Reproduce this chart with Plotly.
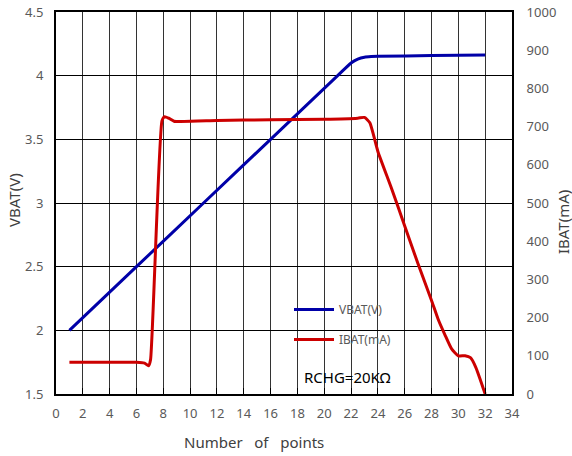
import plotly.graph_objects as go

# VBAT (V) vs number of points
vbat_x = [1, 6, 11, 16, 21, 22, 22.5, 23, 23.5, 24, 28, 32]
vbat_y = [2.0, 2.5, 3.0, 3.5, 4.0, 4.1, 4.13, 4.145, 4.15, 4.152, 4.158, 4.162]

# IBAT (mA) vs number of points
ibat_x = [1, 6, 6.6, 6.9, 7.05, 7.9, 8.1, 8.4, 8.8, 12, 16, 20, 22.5, 23, 23.4, 24, 25, 26, 27, 28, 28.5, 29, 29.5, 30, 30.5, 30.9, 31.3, 32]
ibat_y = [83, 83, 81, 74, 90, 715, 726, 722, 714, 716, 718, 719, 722, 724, 710, 635, 540, 440, 340, 245, 195, 155, 118, 100, 100, 95, 70, 0]

x_ticks = list(range(0, 35, 2))
left_ticks = [1.5, 2, 2.5, 3, 3.5, 4, 4.5]
right_ticks = list(range(0, 1001, 100))

W, H = 572, 456
L, R, T, B = 56, 60, 12, 62
pw, ph = W - L - R, H - T - B

def px(xp):  # page pixel x -> paper
    return (xp - L) / pw

def py(yp):  # page pixel y -> paper
    return (H - B - yp) / ph

fig = go.Figure()
fig.add_trace(go.Scatter(x=vbat_x, y=vbat_y, name="VBAT(V)", mode="lines",
                         line=dict(color="#0000a8", width=3, shape="spline", smoothing=0.6),
                         legendgroup="a"))
fig.add_trace(go.Scatter(x=ibat_x, y=ibat_y, name="IBAT(mA)", mode="lines", yaxis="y2",
                         line=dict(color="#cc0000", width=3, shape="spline", smoothing=0.5),
                         legendgroup="b"))

tickfont = dict(family="Noto Sans", size=13, color="#595959")
titlefont = dict(family="Noto Sans", size=15, color="#404040")

fig.update_layout(
    width=W, height=H,
    margin=dict(l=L, r=R, t=T, b=B, autoexpand=False),
    plot_bgcolor="white", paper_bgcolor="white",
    showlegend=True,
    legend=dict(x=px(289), y=py(295), xanchor="left", yanchor="top",
                bgcolor="rgba(0,0,0,0)", font=dict(family="Noto Sans", size=12, color="#595959"),
                traceorder="grouped", tracegroupgap=11, itemwidth=40),
    xaxis=dict(range=[0, 34], tickvals=x_ticks, tickfont=tickfont, automargin=False,
               showgrid=True, gridcolor="#333333", gridwidth=1,
               showline=True, linecolor="black", linewidth=2, mirror=True,
               ticks="inside", ticklen=6, tickcolor="black", zeroline=False,
               ticklabelstandoff=6),
    yaxis=dict(range=[1.5, 4.5], tickvals=left_ticks, ticktext=["1.5", "2", "2.5", "3", "3.5", "4", "4.5"],
               tickfont=tickfont, showgrid=True, gridcolor="black", gridwidth=1, automargin=False,
               showline=True, linecolor="black", linewidth=2, zeroline=False,
               ticks="", ticklabelstandoff=8, ticklabeloverflow="allow"),
    yaxis2=dict(range=[0, 1000], tickvals=right_ticks, overlaying="y", side="right",
                tickfont=tickfont, showgrid=False, showline=True, linecolor="black", linewidth=2,
                zeroline=False, ticks="", automargin=False, ticklabelstandoff=10,
                ticklabeloverflow="allow"),
    shapes=[
        dict(type="rect", xref="paper", yref="paper", x0=px(272), x1=px(420), y0=py(387), y1=py(294),
             fillcolor="white", line=dict(width=0), layer="between"),
        dict(type="rect", xref="paper", yref="paper", x0=px(419), x1=px(437), y0=py(387), y1=py(353),
             fillcolor="white", line=dict(width=0), layer="between"),
    ],
    annotations=[
        dict(text="RCHG=20KΩ", xref="paper", yref="paper", x=px(302), y=py(377),
             xanchor="left", yanchor="middle", showarrow=False,
             font=dict(family="Noto Sans", size=15, color="black")),
        dict(text="Number\u00a0\u00a0\u00a0of\u00a0\u00a0\u00a0points", xref="paper", yref="paper",
             x=px(254), y=py(442), xanchor="center", yanchor="middle", showarrow=False,
             font=titlefont),
        dict(text="VBAT(V)", xref="paper", yref="paper", x=px(14), y=py(200), textangle=-90,
             xanchor="center", yanchor="middle", showarrow=False, font=titlefont),
        dict(text="IBAT(mA)", xref="paper", yref="paper", x=px(563), y=py(222), textangle=-90,
             xanchor="center", yanchor="middle", showarrow=False, font=titlefont),
    ],
)

fig.write_html("out.html", post_script="document.body.style.margin='0';",
               config={"displayModeBar": False})
